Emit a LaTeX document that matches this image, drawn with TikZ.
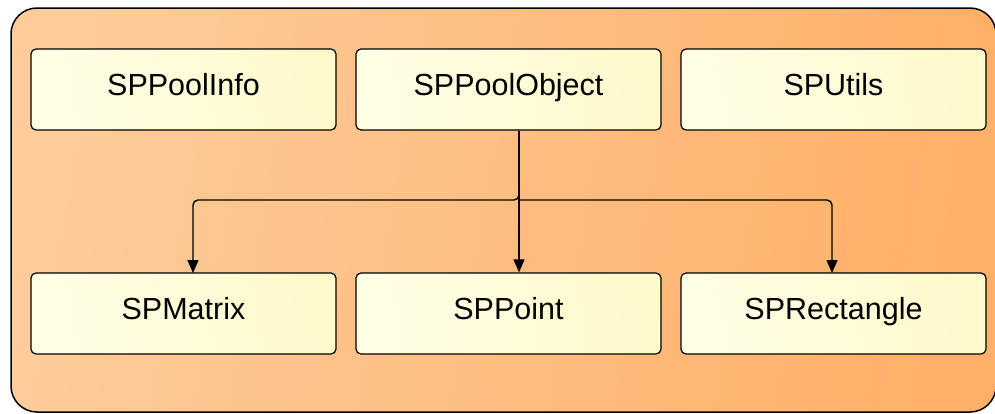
\documentclass[tikz,border=0pt]{standalone}
\usepackage{fontspec}
\setmainfont{Liberation Sans}
\usetikzlibrary{arrows.meta}
\definecolor{panelL}{HTML}{FCCC9A}
\definecolor{panelR}{HTML}{FFB068}
\definecolor{boxL}{HTML}{FFFFE6}
\definecolor{boxR}{HTML}{FFF9CC}
\tikzset{
  classbox/.style={draw=black, line width=1.2pt, rounded corners=5pt,
    minimum width=305pt, minimum height=81pt, inner sep=0pt,
    text height=22pt, text depth=11pt,
    left color=boxL, right color=boxR, shading angle=100,
    font=\fontsize{30.5}{36}\selectfont},
  link/.style={draw=black, line width=1.4pt, rounded corners=5pt,
    -{Triangle[length=13pt,width=11pt]}},
}
\begin{document}
\begin{tikzpicture}[x=1pt,y=-1pt]
\useasboundingbox (0,0) rectangle (995,413);
% enclosing panel
\path[draw=black, line width=1.5pt, rounded corners=26pt,
  left color=panelL, right color=panelR, shading angle=80]
  (11,8) rectangle (996,412);
% class boxes
\node[classbox] (info)   at (183.5,89.5)  {SPPoolInfo};
\node[classbox] (object) at (508.5,89.5)  {SPPoolObject};
\node[classbox] (utils)  at (833.5,89.5)  {SPUtils};
\node[classbox] (matrix) at (183.5,313.5) {SPMatrix};
\node[classbox] (point)  at (508.5,313.5) {SPPoint};
\node[classbox] (rect)   at (833.5,313.5) {SPRectangle};
% inheritance connectors
\coordinate (fork) at (519,200);
\draw[link] (object.south -| fork) -- (fork) -| (193,273) coordinate (mtop);
\draw[link] (object.south -| fork) -- (point.north -| fork);
\draw[link] (fork) -| (832,273) coordinate (rtop);
\end{tikzpicture}
\end{document}
